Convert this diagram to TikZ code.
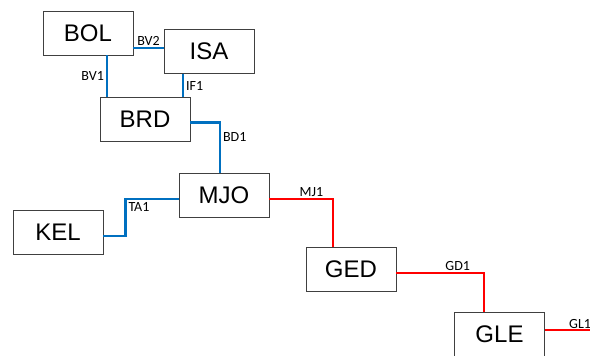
\documentclass[tikz,border=0pt]{standalone}
\usepackage{fontspec}
\setmainfont{Liberation Sans}
\newfontfamily\linkfont{Carlito}
\usepackage{tikz}

\definecolor{linkblue}{RGB}{0,112,192}
\definecolor{boxgray}{RGB}{64,64,64}

\tikzset{
    station/.style={draw=boxgray, line width=0.8pt, fill=white, minimum width=90pt, minimum height=44pt, inner sep=0pt, font=\fontsize{24}{26}\selectfont},
    bluelink/.style={draw=linkblue, line width=2.2pt},
    redlink/.style={draw=red, line width=2.2pt},
    linklabel/.style={font=\linkfont\fontsize{14}{16}\selectfont, inner sep=2pt, text=black}
}

\begin{document}
\begin{tikzpicture}[x=1pt, y=-1pt]
    \clip (0,0) rectangle (590,356);
    \useasboundingbox (0,0) rectangle (590,356);

    % stations
    \node[station] (bol) at (88,33) {BOL};
    \node[station] (isa) at (209,51.5) {ISA};
    \node[station] (brd) at (145,119.5) {BRD};
    \node[station] (mjo) at (224,195) {MJO};
    \node[station] (kel) at (58,232) {KEL};
    \node[station] (ged) at (351,269.5) {GED};
    \node[station] (gle) at (499.5,334) {GLE};

    % blue part
    \draw[bluelink] ([yshift=-15pt]bol.east) coordinate (bv2) -- (bv2 -| isa.west) node[midway, above, linklabel, inner sep=1pt] {BV2};
    \draw[bluelink] ([xshift=19pt]bol.south) coordinate (bv1) -- (bv1 |- brd.north) node[midway, left, linklabel] {BV1};
    \draw[bluelink] ([xshift=-26pt]isa.south) coordinate (if1) -- (if1 |- brd.north) node[midway, right, linklabel] {IF1};
    \draw[bluelink] ([yshift=-3pt]brd.east) -| ([xshift=-4pt]mjo.north) node[pos=0.64, right, linklabel] {BD1};
    \draw[bluelink] ([yshift=-4pt]kel.east) -- ++(22,0) |- ([yshift=-4pt]mjo.west) node[pos=0.5, below right, linklabel] {TA1};

    % red part
    \draw[redlink] ([yshift=-4pt]mjo.east) -| ([xshift=-18pt]ged.north) node[pos=0.33, above, linklabel, inner sep=1pt] {MJ1};
    \draw[redlink] ([yshift=-3.5pt]ged.east) -| ([xshift=-15.5pt]gle.north) node[pos=0.35, above, linklabel, inner sep=1pt] {GD1};
    \coordinate (gl1) at (600,330);
    \draw[redlink] ([yshift=4pt]gle.east) -- (gl1);
    \node[linklabel, anchor=south west, inner sep=1pt] at (568,330) {GL1};

\end{tikzpicture}
\end{document}
